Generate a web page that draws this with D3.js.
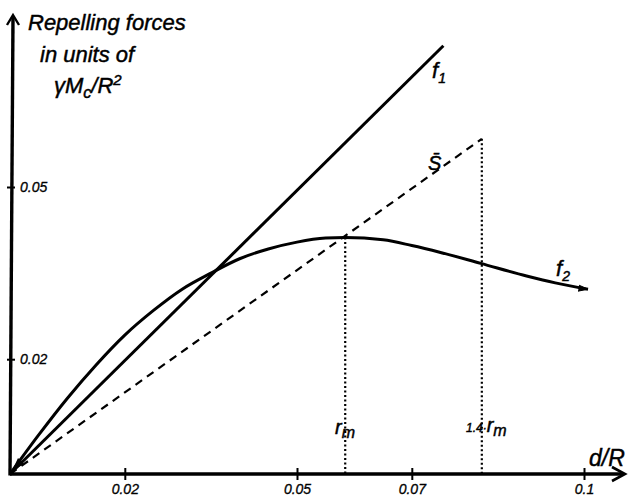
<!DOCTYPE html>
<html><head><meta charset="utf-8">
<script src="https://cdn.jsdelivr.net/npm/d3@7"></script>
<style>
html,body{margin:0;padding:0;background:#fff;}
text{font-family:"Liberation Sans",Arial,sans-serif;font-style:italic;fill:#000;}
.lbl{stroke:#000;stroke-width:0.45px;}
</style></head>
<body><svg id="c" width="632" height="497"></svg>
<script>
// ---- data ----
const xTicks = [0.02, 0.05, 0.07, 0.1];
const xTickLabels = ["0.02", "0.05", "0.07", "0.1"];
const yTicks = [0.02, 0.05];
const yTickLabels = ["0.02", "0.05"];
// f1: straight line
const f1 = [[0, 0], [0.0755, 0.0746]];
// f2: curve
const f2 = [[0,0],[0.005,0.0068],[0.01,0.0132],[0.015,0.019],[0.02,0.0242],[0.025,0.0285],
  [0.03,0.0322],[0.035,0.035],[0.04,0.0375],[0.045,0.0392],[0.05,0.0404],[0.055,0.0411],
  [0.0584,0.0412],[0.065,0.0408],[0.07,0.0398],[0.075,0.0386],[0.082,0.0367],[0.09,0.0345],
  [0.095,0.0333],[0.1007,0.0322]];
// S: dashed straight line
const S = [[0, 0], [0.0822, 0.0584]];
const rm = 0.0584, rmTop = 0.0412;
const rm14 = 0.0822, rm14Top = 0.0584;

// ---- scales ----
const x = d3.scaleLinear().domain([0, 0.1]).range([10, 584]);
const y = d3.scaleLinear().domain([0, 0.05]).range([474, 187]);
const svg = d3.select("#c");
const line = d3.line().x(d => x(d[0])).y(d => y(d[1]));
const curve = d3.line().x(d => x(d[0])).y(d => y(d[1])).curve(d3.curveMonotoneX);

// ---- axes ----
const x0 = x(0), y0 = y(0);
svg.append("path").attr("d", `M${x0},${y0}H624`)
  .style("fill", "none").style("stroke", "#000").style("stroke-width", "3.4px");
svg.append("path").attr("d", `M612,${y0-7} L625,${y0} L612,${y0+7}`)
  .style("fill", "none").style("stroke", "#000").style("stroke-width", "2.6px");
svg.append("path").attr("d", `M${x0},${y0+1.5}L${x0+3},17`)
  .style("fill", "none").style("stroke", "#000").style("stroke-width", "3.4px");
svg.append("path").attr("d", `M${x0-3},${25} L${x0+3},${15} L${x0+9},${25}`)
  .style("fill", "none").style("stroke", "#000").style("stroke-width", "2.4px");

const xa = svg.append("g").attr("transform", `translate(0,${y0})`)
  .call(d3.axisBottom(x).tickValues(xTicks).tickSize(6).tickFormat((d, i) => xTickLabels[i]));
xa.select(".domain").remove();
xa.selectAll(".tick line").attr("y1", -6).attr("stroke-width", 2);
xa.selectAll(".tick text").attr("y", 10).attr("font-size", 14).attr("font-family", null)
  .attr("font-style", "italic").attr("class", "lbl").style("stroke-width", "0.3px");

const ya = svg.append("g").attr("transform", `translate(${x0+1},0)`)
  .call(d3.axisRight(y).tickValues(yTicks).tickSize(4).tickFormat((d, i) => yTickLabels[i]));
ya.select(".domain").remove();
ya.selectAll(".tick line").attr("x1", -4).attr("stroke-width", 2);
ya.selectAll(".tick text").attr("x", 9).attr("font-size", 14).attr("font-family", null)
  .attr("font-style", "italic").attr("class", "lbl").style("stroke-width", "0.3px");

// ---- marks ----
svg.append("path").attr("d", line(S)).attr("fill", "none").attr("stroke", "#000")
  .attr("stroke-width", 2.2).attr("stroke-dasharray", "8,6");
svg.append("path").attr("d", line(f1)).attr("fill", "none").attr("stroke", "#000")
  .attr("stroke-width", 3);
svg.append("path").attr("d", curve(f2)).attr("fill", "none").attr("stroke", "#000")
  .attr("stroke-width", 3);
// f2 arrow tip
const e = f2[f2.length - 1];
svg.append("path").attr("d", `M${x(e[0])-9},${y(e[1])-4} L${x(e[0])},${y(e[1])} L${x(e[0])-10},${y(e[1])+2}`)
  .attr("fill", "#000").attr("stroke", "#000").attr("stroke-width", 1);
// small arrowhead near origin
svg.append("path").attr("d", `M${x0+2},${y0-3} L${x0+14},${y0-10} L${x0+8},${y0-16} Z`)
  .attr("fill", "#000");

// dotted verticals
svg.append("line").attr("x1", x(rm)).attr("x2", x(rm)).attr("y1", y(rmTop)).attr("y2", y0)
  .attr("stroke", "#000").attr("stroke-width", 2.2).attr("stroke-dasharray", "2,2.5");
svg.append("line").attr("x1", x(rm14)).attr("x2", x(rm14)).attr("y1", y(rm14Top)).attr("y2", y0)
  .attr("stroke", "#000").attr("stroke-width", 2.2).attr("stroke-dasharray", "2,2.5");

// ---- labels ----
const t = (s, px, py, fs) => svg.append("text").attr("class", "lbl").attr("x", px).attr("y", py).attr("font-size", fs).text(s);
t("Repelling forces", 28, 30, 22);
t("in units of", 40, 62, 22);
const g3 = svg.append("text").attr("class", "lbl").attr("x", 54).attr("y", 93).attr("font-size", 22);
g3.append("tspan").text("γM");
g3.append("tspan").attr("dy", 5).attr("font-size", 16).text("c");
g3.append("tspan").attr("dy", -5).text("/R");
g3.append("tspan").attr("dy", -8).attr("font-size", 15).text("2");

const lf1 = svg.append("text").attr("class", "lbl").attr("x", 432).attr("y", 78).attr("font-size", 22);
lf1.append("tspan").text("f");
lf1.append("tspan").attr("dy", 5).attr("font-size", 14).text("1");
const lf2 = svg.append("text").attr("class", "lbl").attr("x", 556).attr("y", 276).attr("font-size", 22);
lf2.append("tspan").text("f");
lf2.append("tspan").attr("dy", 5).attr("font-size", 14).text("2");
t("S\u0304", 428, 170, 20);

const lrm = svg.append("text").attr("class", "lbl").attr("x", 335).attr("y", 434).attr("font-size", 20);
lrm.append("tspan").text("r");
lrm.append("tspan").attr("dy", 4).attr("font-size", 16).text("m");
const lrm14 = svg.append("text").attr("class", "lbl").attr("x", 466).attr("y", 432).attr("font-size", 12);
lrm14.append("tspan").text("1.4·");
lrm14.append("tspan").attr("font-size", 20).text("r");
lrm14.append("tspan").attr("dy", 4).attr("font-size", 16).text("m");

t("d/R", 589, 466, 23);
</script></body></html>
